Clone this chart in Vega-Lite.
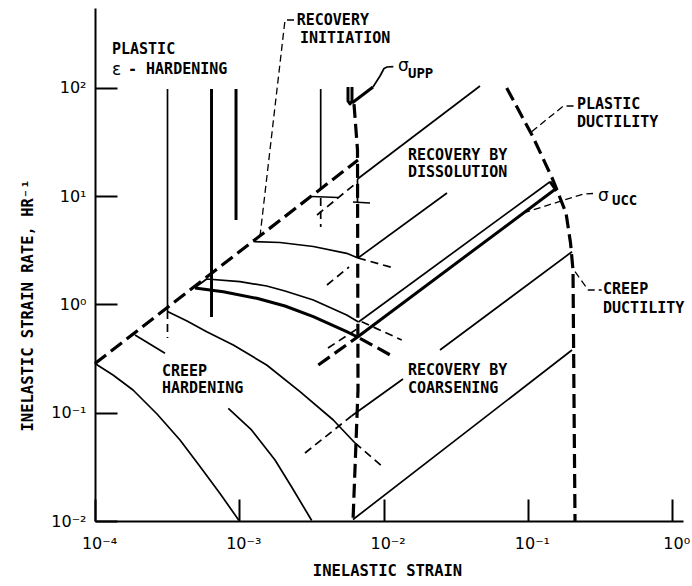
{
  "$schema": "https://vega.github.io/schema/vega-lite/v6.json",
  "width": 588,
  "height": 513,
  "autosize": {"type": "none"},
  "padding": {"left": 95, "top": 8, "right": 9, "bottom": 65},
  "background": "white",
  "config": {"view": {"stroke": null}},
  "datasets": {
    "lines": [
      {"path": "hard_a", "kind": "curve", "i": 0, "strain": 0.000318, "rate": 97.5},
      {"path": "hard_a", "kind": "curve", "i": 1, "strain": 0.000318, "rate": 0.869},
      {"path": "hard_d", "kind": "curve", "i": 0, "strain": 0.003665, "rate": 97.5},
      {"path": "hard_d", "kind": "curve", "i": 1, "strain": 0.003665, "rate": 11.56},
      {"path": "flat_d", "kind": "curve", "i": 0, "strain": 0.003175, "rate": 9.92},
      {"path": "flat_d", "kind": "curve", "i": 1, "strain": 0.004831, "rate": 9.71},
      {"path": "hard_upp", "kind": "curve", "i": 0, "strain": 0.006593, "rate": 14.38},
      {"path": "hard_upp", "kind": "curve", "i": 1, "strain": 0.006593, "rate": 8.82},
      {"path": "flat_upp", "kind": "curve", "i": 0, "strain": 0.006137, "rate": 8.82},
      {"path": "flat_upp", "kind": "curve", "i": 1, "strain": 0.008049, "rate": 8.638},
      {"path": "rec1", "kind": "curve", "i": 0, "strain": 0.006593, "rate": 14.38},
      {"path": "rec1", "kind": "curve", "i": 1, "strain": 0.04658, "rate": 103.9},
      {"path": "rec2", "kind": "curve", "i": 0, "strain": 0.006646, "rate": 2.682},
      {"path": "rec2", "kind": "curve", "i": 1, "strain": 0.0275, "rate": 10.68},
      {"path": "init", "kind": "curve", "i": 0, "strain": 0.00125, "rate": 3.808},
      {"path": "init", "kind": "curve", "i": 1, "strain": 0.001915, "rate": 3.728},
      {"path": "init", "kind": "curve", "i": 2, "strain": 0.003257, "rate": 3.424},
      {"path": "init", "kind": "curve", "i": 3, "strain": 0.00555, "rate": 2.963},
      {"path": "init", "kind": "curve", "i": 4, "strain": 0.006646, "rate": 2.682},
      {"path": "creep_upper", "kind": "curve", "i": 0, "strain": 0.0004932, "rate": 1.432},
      {"path": "creep_upper", "kind": "curve", "i": 1, "strain": 0.0005944, "rate": 1.716},
      {"path": "creep_upper", "kind": "curve", "i": 2, "strain": 0.001011, "rate": 1.621},
      {"path": "creep_upper", "kind": "curve", "i": 3, "strain": 0.001548, "rate": 1.479},
      {"path": "creep_upper", "kind": "curve", "i": 4, "strain": 0.002074, "rate": 1.329},
      {"path": "creep_upper", "kind": "curve", "i": 5, "strain": 0.003257, "rate": 1.098},
      {"path": "creep_upper", "kind": "curve", "i": 6, "strain": 0.00555, "rate": 0.7981},
      {"path": "creep_upper", "kind": "curve", "i": 7, "strain": 0.0067, "rate": 0.6879},
      {"path": "ucc_upper", "kind": "curve", "i": 0, "strain": 0.0067, "rate": 0.6879},
      {"path": "ucc_upper", "kind": "curve", "i": 1, "strain": 0.1423, "rate": 13.58},
      {"path": "rec3", "kind": "curve", "i": 0, "strain": 0.02459, "rate": 0.3793},
      {"path": "rec3", "kind": "curve", "i": 1, "strain": 0.2022, "rate": 3.066},
      {"path": "rec4", "kind": "curve", "i": 0, "strain": 0.005991, "rate": 0.09322},
      {"path": "rec4", "kind": "curve", "i": 1, "strain": 0.01363, "rate": 0.2048},
      {"path": "rec5", "kind": "curve", "i": 0, "strain": 0.006137, "rate": 0.01032},
      {"path": "rec5", "kind": "curve", "i": 1, "strain": 0.2022, "rate": 0.3793},
      {"path": "creep1", "kind": "curve", "i": 0, "strain": 0.0001, "rate": 0.2847},
      {"path": "creep1", "kind": "curve", "i": 1, "strain": 0.0001333, "rate": 0.2229},
      {"path": "creep1", "kind": "curve", "i": 2, "strain": 0.0001834, "rate": 0.162},
      {"path": "creep1", "kind": "curve", "i": 3, "strain": 0.000269, "rate": 0.09727},
      {"path": "creep1", "kind": "curve", "i": 4, "strain": 0.0003882, "rate": 0.05597},
      {"path": "creep1", "kind": "curve", "i": 5, "strain": 0.0005342, "rate": 0.03185},
      {"path": "creep1", "kind": "curve", "i": 6, "strain": 0.0007349, "rate": 0.01794},
      {"path": "creep1", "kind": "curve", "i": 7, "strain": 0.000995, "rate": 0.01011},
      {"path": "creep2", "kind": "curve", "i": 0, "strain": 0.0001893, "rate": 0.5219},
      {"path": "creep2", "kind": "curve", "i": 1, "strain": 0.0003056, "rate": 0.3536},
      {"path": "creep3", "kind": "curve", "i": 0, "strain": 0.000318, "rate": 0.8598},
      {"path": "creep3", "kind": "curve", "i": 1, "strain": 0.0004342, "rate": 0.7025},
      {"path": "creep3", "kind": "curve", "i": 2, "strain": 0.0005944, "rate": 0.5597},
      {"path": "creep3", "kind": "curve", "i": 3, "strain": 0.0009087, "rate": 0.4218},
      {"path": "creep3", "kind": "curve", "i": 4, "strain": 0.001548, "rate": 0.2757},
      {"path": "creep3", "kind": "curve", "i": 5, "strain": 0.002634, "rate": 0.1563},
      {"path": "creep3", "kind": "curve", "i": 6, "strain": 0.004481, "rate": 0.08563},
      {"path": "creep3", "kind": "curve", "i": 7, "strain": 0.006336, "rate": 0.05252},
      {"path": "creep4", "kind": "curve", "i": 0, "strain": 0.000839, "rate": 0.1098},
      {"path": "creep4", "kind": "curve", "i": 1, "strain": 0.001215, "rate": 0.06924},
      {"path": "creep4", "kind": "curve", "i": 2, "strain": 0.001768, "rate": 0.03658},
      {"path": "creep4", "kind": "curve", "i": 3, "strain": 0.0023, "rate": 0.02074},
      {"path": "creep4", "kind": "curve", "i": 4, "strain": 0.003175, "rate": 0.01011},
      {"path": "lead_upp_b", "kind": "curve", "i": 0, "strain": 0.008443, "rate": 101.7},
      {"path": "lead_upp_b", "kind": "curve", "i": 1, "strain": 0.009443, "rate": 128.5},
      {"path": "lead_upp_b", "kind": "curve", "i": 2, "strain": 0.010064, "rate": 150.7},
      {"path": "lead_upp_b", "kind": "curve", "i": 3, "strain": 0.01056, "rate": 155.6},
      {"path": "lead_upp_b", "kind": "curve", "i": 4, "strain": 0.01168, "rate": 156.6},

      {"path": "hard_b", "kind": "heavy", "i": 0, "strain": 0.000642, "rate": 97.5},
      {"path": "hard_b", "kind": "heavy", "i": 1, "strain": 0.000642, "rate": 0.7649},
      {"path": "hard_c", "kind": "heavy", "i": 0, "strain": 0.000949, "rate": 97.5},
      {"path": "hard_c", "kind": "heavy", "i": 1, "strain": 0.000949, "rate": 6.016},
      {"path": "creep_lower", "kind": "heavy", "i": 0, "strain": 0.0004932, "rate": 1.417},
      {"path": "creep_lower", "kind": "heavy", "i": 1, "strain": 0.0007746, "rate": 1.31},
      {"path": "creep_lower", "kind": "heavy", "i": 2, "strain": 0.00132, "rate": 1.138},
      {"path": "creep_lower", "kind": "heavy", "i": 3, "strain": 0.002074, "rate": 0.9665},
      {"path": "creep_lower", "kind": "heavy", "i": 4, "strain": 0.003257, "rate": 0.7697},
      {"path": "creep_lower", "kind": "heavy", "i": 5, "strain": 0.00555, "rate": 0.5597},
      {"path": "creep_lower", "kind": "heavy", "i": 6, "strain": 0.006593, "rate": 0.5},
      {"path": "ucc_lower", "kind": "heavy", "i": 0, "strain": 0.006593, "rate": 0.5},
      {"path": "ucc_lower", "kind": "heavy", "i": 1, "strain": 0.1554, "rate": 11.63},
      {"path": "ucc_cap", "kind": "heavy", "i": 0, "strain": 0.1423, "rate": 13.58},
      {"path": "ucc_cap", "kind": "heavy", "i": 1, "strain": 0.1579, "rate": 11.15},
      {"path": "upp_mark", "kind": "heavy", "i": 0, "strain": 0.005666, "rate": 101.7},
      {"path": "upp_mark", "kind": "heavy", "i": 1, "strain": 0.005666, "rate": 75.53},
      {"path": "upp_mark", "kind": "heavy", "i": 2, "strain": 0.00585, "rate": 70.86},
      {"path": "upp_mark", "kind": "heavy", "i": 3, "strain": 0.006039, "rate": 75.53},
      {"path": "upp_mark", "kind": "heavy", "i": 4, "strain": 0.006039, "rate": 101.7},
      {"path": "lead_upp_a", "kind": "heavy", "i": 0, "strain": 0.006039, "rate": 72.38},
      {"path": "lead_upp_a", "kind": "heavy", "i": 1, "strain": 0.008443, "rate": 101.7},

      {"path": "plastic_limit", "kind": "limit", "i": 0, "strain": 0.0001, "rate": 0.2847},
      {"path": "plastic_limit", "kind": "limit", "i": 1, "strain": 0.006646, "rate": 21.54},
      {"path": "upp_limit", "kind": "limit", "i": 0, "strain": 0.006236, "rate": 70.86},
      {"path": "upp_limit", "kind": "limit", "i": 1, "strain": 0.006593, "rate": 26.66},
      {"path": "upp_limit", "kind": "limit", "i": 2, "strain": 0.006646, "rate": 0.162},
      {"path": "upp_limit", "kind": "limit", "i": 3, "strain": 0.006137, "rate": 0.01},
      {"path": "ductility", "kind": "limit", "i": 0, "strain": 0.07131, "rate": 99.6},
      {"path": "ductility", "kind": "limit", "i": 1, "strain": 0.1085, "rate": 35.13},
      {"path": "ductility", "kind": "limit", "i": 2, "strain": 0.1493, "rate": 14.08},
      {"path": "ductility", "kind": "limit", "i": 3, "strain": 0.1837, "rate": 6.982},
      {"path": "ductility", "kind": "limit", "i": 4, "strain": 0.1974, "rate": 3.689},
      {"path": "ductility", "kind": "limit", "i": 5, "strain": 0.2054, "rate": 2.078},
      {"path": "ductility", "kind": "limit", "i": 6, "strain": 0.2087, "rate": 0.131},
      {"path": "ductility", "kind": "limit", "i": 7, "strain": 0.2121, "rate": 0.01},
      {"path": "creep_lower_ext", "kind": "limit", "i": 0, "strain": 0.006862, "rate": 0.4864},
      {"path": "creep_lower_ext", "kind": "limit", "i": 1, "strain": 0.01168, "rate": 0.3289},
      {"path": "ucc_lower_ext", "kind": "limit", "i": 0, "strain": 0.003528, "rate": 0.2757},
      {"path": "ucc_lower_ext", "kind": "limit", "i": 1, "strain": 0.006593, "rate": 0.5},

      {"path": "hard_a_ext", "kind": "extrapolated", "i": 0, "strain": 0.000318, "rate": 0.869},
      {"path": "hard_a_ext", "kind": "extrapolated", "i": 1, "strain": 0.000318, "rate": 0.4894},
      {"path": "hard_d_ext", "kind": "extrapolated", "i": 0, "strain": 0.003665, "rate": 9.605},
      {"path": "hard_d_ext", "kind": "extrapolated", "i": 1, "strain": 0.003665, "rate": 5.185},
      {"path": "rec1_ext", "kind": "extrapolated", "i": 0, "strain": 0.003455, "rate": 6.691},
      {"path": "rec1_ext", "kind": "extrapolated", "i": 1, "strain": 0.006593, "rate": 13.49},
      {"path": "rec2_ext", "kind": "extrapolated", "i": 0, "strain": 0.004053, "rate": 1.511},
      {"path": "rec2_ext", "kind": "extrapolated", "i": 1, "strain": 0.005757, "rate": 2.214},
      {"path": "init_ext", "kind": "extrapolated", "i": 0, "strain": 0.006646, "rate": 2.682},
      {"path": "init_ext", "kind": "extrapolated", "i": 1, "strain": 0.01199, "rate": 2.154},
      {"path": "creep_upper_ext", "kind": "extrapolated", "i": 0, "strain": 0.00705, "rate": 0.6923},
      {"path": "creep_upper_ext", "kind": "extrapolated", "i": 1, "strain": 0.01335, "rate": 0.4692},
      {"path": "ucc_upper_ext", "kind": "extrapolated", "i": 0, "strain": 0.004118, "rate": 0.3957},
      {"path": "ucc_upper_ext", "kind": "extrapolated", "i": 1, "strain": 0.006542, "rate": 0.593},
      {"path": "rec4_ext", "kind": "extrapolated", "i": 0, "strain": 0.002853, "rate": 0.04246},
      {"path": "rec4_ext", "kind": "extrapolated", "i": 1, "strain": 0.005991, "rate": 0.09322},
      {"path": "creep3_ext", "kind": "extrapolated", "i": 0, "strain": 0.006336, "rate": 0.05252},
      {"path": "creep3_ext", "kind": "extrapolated", "i": 1, "strain": 0.010064, "rate": 0.03086},

      {"path": "lead_init", "kind": "leader", "i": 0, "strain": 0.002394, "rate": 422.7},
      {"path": "lead_init", "kind": "leader", "i": 1, "strain": 0.002074, "rate": 422.7},
      {"path": "lead_init", "kind": "leader", "i": 2, "strain": 0.001392, "rate": 4.281},
      {"path": "lead_init", "kind": "leader", "i": 3, "strain": 0.001265, "rate": 3.849},
      {"path": "lead_pd", "kind": "leader", "i": 0, "strain": 0.1062, "rate": 39.33},
      {"path": "lead_pd", "kind": "leader", "i": 1, "strain": 0.176, "rate": 67.91},
      {"path": "lead_pd", "kind": "leader", "i": 2, "strain": 0.2121, "rate": 67.91},
      {"path": "lead_ucc", "kind": "leader", "i": 0, "strain": 0.09292, "rate": 6.982},
      {"path": "lead_ucc", "kind": "leader", "i": 1, "strain": 0.242, "rate": 10.46},
      {"path": "lead_ucc", "kind": "leader", "i": 2, "strain": 0.2826, "rate": 10.57},
      {"path": "lead_cd", "kind": "leader", "i": 0, "strain": 0.2121, "rate": 2.004},
      {"path": "lead_cd", "kind": "leader", "i": 1, "strain": 0.2622, "rate": 1.358},
      {"path": "lead_cd", "kind": "leader", "i": 2, "strain": 0.3246, "rate": 1.358}
    ],
    "labels": [
      {"text": "PLASTIC", "strain": 0.0001311, "rate": 228},
      {"text": "- HARDENING", "strain": 0.0001693, "rate": 150},
      {"text": "RECOVERY", "strain": 0.002499, "rate": 425},
      {"text": "INITIATION", "strain": 0.002634, "rate": 290},
      {"text": "RECOVERY BY", "strain": 0.01476, "rate": 24.2},
      {"text": "DISSOLUTION", "strain": 0.01476, "rate": 16.8},
      {"text": "PLASTIC", "strain": 0.219, "rate": 70.5},
      {"text": "DUCTILITY", "strain": 0.219, "rate": 48.2},
      {"text": "CREEP", "strain": 0.3315, "rate": 1.38},
      {"text": "DUCTILITY", "strain": 0.3315, "rate": 0.935},
      {"text": "CREEP", "strain": 0.0002912, "rate": 0.245},
      {"text": "HARDENING", "strain": 0.0002912, "rate": 0.168},
      {"text": "RECOVERY BY", "strain": 0.01476, "rate": 0.25},
      {"text": "COARSENING", "strain": 0.01476, "rate": 0.17}
    ],
    "symbols": [
      {"text": "ε", "strain": 0.0001311, "rate": 146},
      {"text": "σ", "strain": 0.01258, "rate": 158.9},
      {"text": "σ", "strain": 0.306, "rate": 10.02}
    ],
    "subscripts": [
      {"text": "UPP", "strain": 0.01476, "rate": 134.1},
      {"text": "UCC", "strain": 0.3826, "rate": 9.01}
    ]
  },
  "encoding": {
    "x": {
      "field": "strain",
      "type": "quantitative",
      "scale": {"type": "log", "domain": [0.0001, 1.188], "nice": false},
      "axis": {
        "values": [0.0001, 0.001, 0.01, 0.1, 1],
        "labelExpr": "datum.value < 0.0005 ? '10⁻⁴' : datum.value < 0.005 ? '10⁻³' : datum.value < 0.05 ? '10⁻²' : datum.value < 0.5 ? '10⁻¹' : '10⁰'",
        "grid": false,
        "tickSize": -22,
        "tickWidth": 2,
        "tickColor": "black",
        "domainColor": "black",
        "domainWidth": 2,
        "labelFont": "DejaVu Sans",
        "labelFontSize": 16,
        "labelColor": "black",
        "labelPadding": 36,
        "labelOffset": 4,
        "labelFlush": false,
        "labelOverlap": false,
        "title": "INELASTIC STRAIN",
        "titleFont": "DejaVu Sans Mono",
        "titleFontSize": 15.5,
        "titleFontWeight": "bold",
        "titleColor": "black",
        "titleX": 292,
        "titleY": 49,
        "titleAlign": "center",
        "titleBaseline": "middle"
      }
    },
    "y": {
      "field": "rate",
      "type": "quantitative",
      "scale": {"type": "log", "domain": [0.01, 545.6], "nice": false},
      "axis": {
        "values": [0.01, 0.1, 1, 10, 100],
        "labelExpr": "datum.value < 0.05 ? '10⁻²' : datum.value < 0.5 ? '10⁻¹' : datum.value < 5 ? '10⁰' : datum.value < 50 ? '10¹' : '10²'",
        "grid": false,
        "tickSize": -22,
        "tickWidth": 2,
        "tickColor": "black",
        "domainColor": "black",
        "domainWidth": 2,
        "labelFont": "DejaVu Sans",
        "labelFontSize": 16,
        "labelColor": "black",
        "labelPadding": 31,
        "labelFlush": false,
        "labelOverlap": false,
        "title": "INELASTIC STRAIN RATE, HR⁻¹",
        "titleFont": "DejaVu Sans Mono",
        "titleFontSize": 15.5,
        "titleFontWeight": "bold",
        "titleColor": "black",
        "titleAngle": 270,
        "titleX": -67.5,
        "titleY": 297,
        "titleAlign": "center",
        "titleBaseline": "middle"
      }
    }
  },
  "layer": [
    {
      "data": {"name": "lines"},
      "transform": [{"filter": "datum.kind === 'curve'"}],
      "mark": {"type": "line", "stroke": "black", "strokeWidth": 1.7, "strokeCap": "butt", "strokeJoin": "round"},
      "encoding": {"detail": {"field": "path"}, "order": {"field": "i", "type": "quantitative"}}
    },
    {
      "data": {"name": "lines"},
      "transform": [{"filter": "datum.kind === 'heavy'"}],
      "mark": {"type": "line", "stroke": "black", "strokeWidth": 3, "strokeCap": "butt", "strokeJoin": "round"},
      "encoding": {"detail": {"field": "path"}, "order": {"field": "i", "type": "quantitative"}}
    },
    {
      "data": {"name": "lines"},
      "transform": [{"filter": "datum.kind === 'limit'"}],
      "mark": {"type": "line", "stroke": "black", "strokeWidth": 3.2, "strokeDash": [14, 6], "strokeCap": "butt"},
      "encoding": {"detail": {"field": "path"}, "order": {"field": "i", "type": "quantitative"}}
    },
    {
      "data": {"name": "lines"},
      "transform": [{"filter": "datum.kind === 'extrapolated'"}],
      "mark": {"type": "line", "stroke": "black", "strokeWidth": 1.7, "strokeDash": [8, 5], "strokeCap": "butt"},
      "encoding": {"detail": {"field": "path"}, "order": {"field": "i", "type": "quantitative"}}
    },
    {
      "data": {"name": "lines"},
      "transform": [{"filter": "datum.kind === 'leader'"}],
      "mark": {"type": "line", "stroke": "black", "strokeWidth": 1.3, "strokeDash": [7, 4], "strokeCap": "butt"},
      "encoding": {"detail": {"field": "path"}, "order": {"field": "i", "type": "quantitative"}}
    },
    {
      "data": {"name": "labels"},
      "mark": {"type": "text", "align": "left", "baseline": "middle", "font": "DejaVu Sans Mono", "fontSize": 15, "fontWeight": "bold", "fill": "black"},
      "encoding": {"text": {"field": "text"}}
    },
    {
      "data": {"name": "symbols"},
      "mark": {"type": "text", "align": "left", "baseline": "middle", "font": "DejaVu Sans", "fontSize": 17, "fill": "black"},
      "encoding": {"text": {"field": "text"}}
    },
    {
      "data": {"name": "subscripts"},
      "mark": {"type": "text", "align": "left", "baseline": "middle", "font": "DejaVu Sans Mono", "fontSize": 14, "fontWeight": "bold", "fill": "black"},
      "encoding": {"text": {"field": "text"}}
    }
  ]
}
